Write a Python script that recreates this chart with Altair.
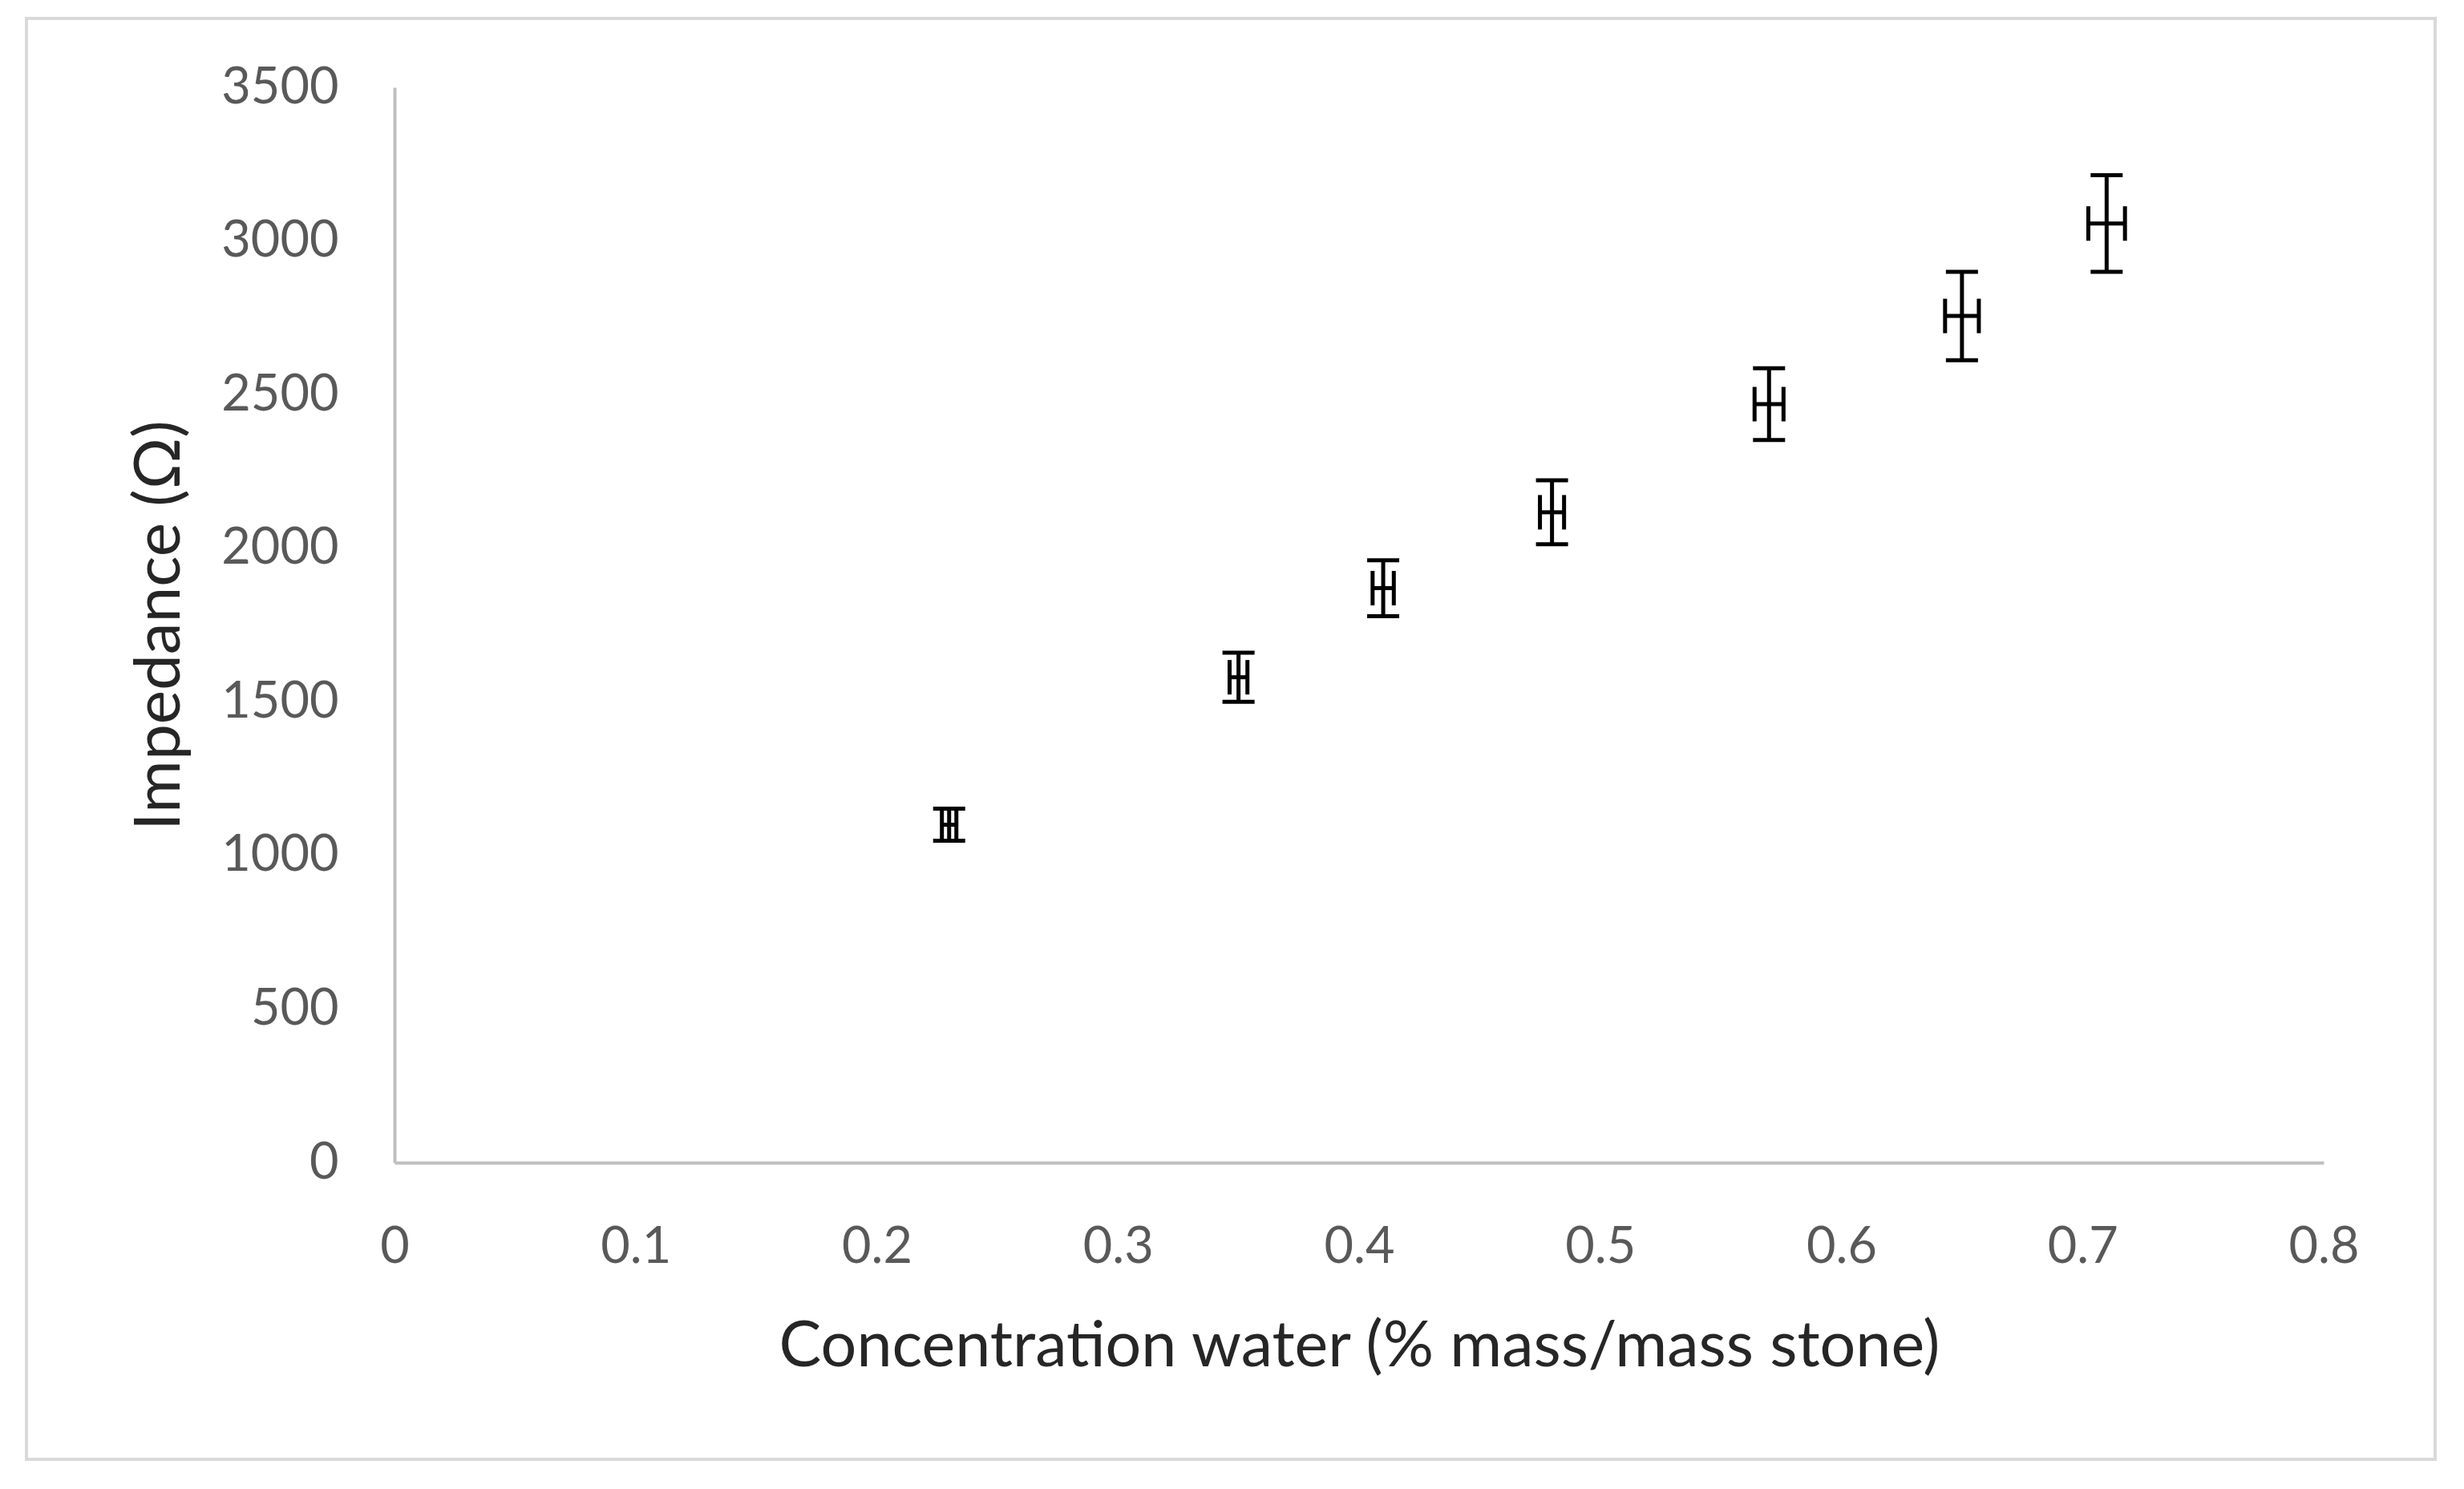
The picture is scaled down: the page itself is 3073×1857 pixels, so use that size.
import altair as alt
import pandas as pd

# Data
conc = [0.23, 0.35, 0.41, 0.48, 0.57, 0.65, 0.71]
impedance = [1100, 1580, 1870, 2117, 2469, 2756, 3057]
imp_err = [52, 80, 91, 104, 117, 144, 157]
conc_err = [0.003, 0.0037, 0.0044, 0.005, 0.006, 0.007, 0.0076]
x_ticks = [0, 0.1, 0.2, 0.3, 0.4, 0.5, 0.6, 0.7, 0.8]
y_ticks = [0, 500, 1000, 1500, 2000, 2500, 3000, 3500]

df = pd.DataFrame({
    "conc": conc,
    "imp": impedance,
    "ylo": [v - e for v, e in zip(impedance, imp_err)],
    "yhi": [v + e for v, e in zip(impedance, imp_err)],
    "xlo": [v - e for v, e in zip(conc, conc_err)],
    "xhi": [v + e for v, e in zip(conc, conc_err)],
})

FONT = "Lato"
xscale = alt.Scale(domain=[0, 0.8], nice=False, zero=False)
yscale = alt.Scale(domain=[0, 3500], nice=False)

xaxis = alt.Axis(
    values=x_ticks, format="~g", title="Concentration water (% mass/mass stone)",
    grid=False, ticks=False, domainColor="#bfbfbf", domainWidth=4,
    labelFont=FONT, labelFontSize=63, labelColor="#595959", labelPadding=74,
    titleFont=FONT, titleFontSize=79, titleFontWeight="normal", titleColor="#262626",
    titlePadding=54, labelFlush=False)
yaxis = alt.Axis(
    values=y_ticks, format="d", title="Impedance (Ω)",
    grid=False, ticks=False, domainColor="#bfbfbf", domainWidth=4,
    labelFont=FONT, labelFontSize=63, labelColor="#595959", labelPadding=70,
    titleFont=FONT, titleFontSize=80, titleFontWeight="normal", titleColor="#262626",
    titlePadding=52, labelFlush=False)

def X(f):
    return alt.X(f, scale=xscale, axis=xaxis)

def Y(f):
    return alt.Y(f, scale=yscale, axis=yaxis)

base = alt.Chart(df)
SW = 5

points = base.mark_point(filled=True, size=40, color="#7f7f7f", opacity=1).encode(
    x=X("conc:Q"), y=Y("imp:Q"))

yrule = base.mark_rule(color="black", strokeWidth=SW).encode(
    x=X("conc:Q"), y=Y("ylo:Q"), y2="yhi:Q")
ycap_lo = base.mark_tick(orient="horizontal", color="black", size=40, thickness=SW, opacity=1).encode(
    x=X("conc:Q"), y=Y("ylo:Q"))
ycap_hi = base.mark_tick(orient="horizontal", color="black", size=40, thickness=SW, opacity=1).encode(
    x=X("conc:Q"), y=Y("yhi:Q"))
xrule = base.mark_rule(color="black", strokeWidth=SW).encode(
    x=X("xlo:Q"), x2="xhi:Q", y=Y("imp:Q"))
xcap_lo = base.mark_tick(orient="vertical", color="black", size=43, thickness=SW, opacity=1).encode(
    x=X("xlo:Q"), y=Y("imp:Q"))
xcap_hi = base.mark_tick(orient="vertical", color="black", size=43, thickness=SW, opacity=1).encode(
    x=X("xhi:Q"), y=Y("imp:Q"))

border = alt.Chart(pd.DataFrame({"b": [0]})).mark_rect(
    fillOpacity=0, stroke="#d9d9d9", strokeWidth=4
).encode(
    x=alt.value(-459), x2=alt.value(2545), y=alt.value(-86), y2=alt.value(1711)
)

chart = alt.layer(
    points, border, yrule, xrule, ycap_lo, ycap_hi, xcap_lo, xcap_hi
).properties(
    width=2406, height=1341,
    autosize=alt.AutoSizeParams(type="none"),
    padding={"left": 484, "top": 101, "right": 160, "bottom": 390},
    background="white",
).configure_view(stroke=None)

chart.save("out.html", embed_options={"renderer": "svg", "actions": False})
